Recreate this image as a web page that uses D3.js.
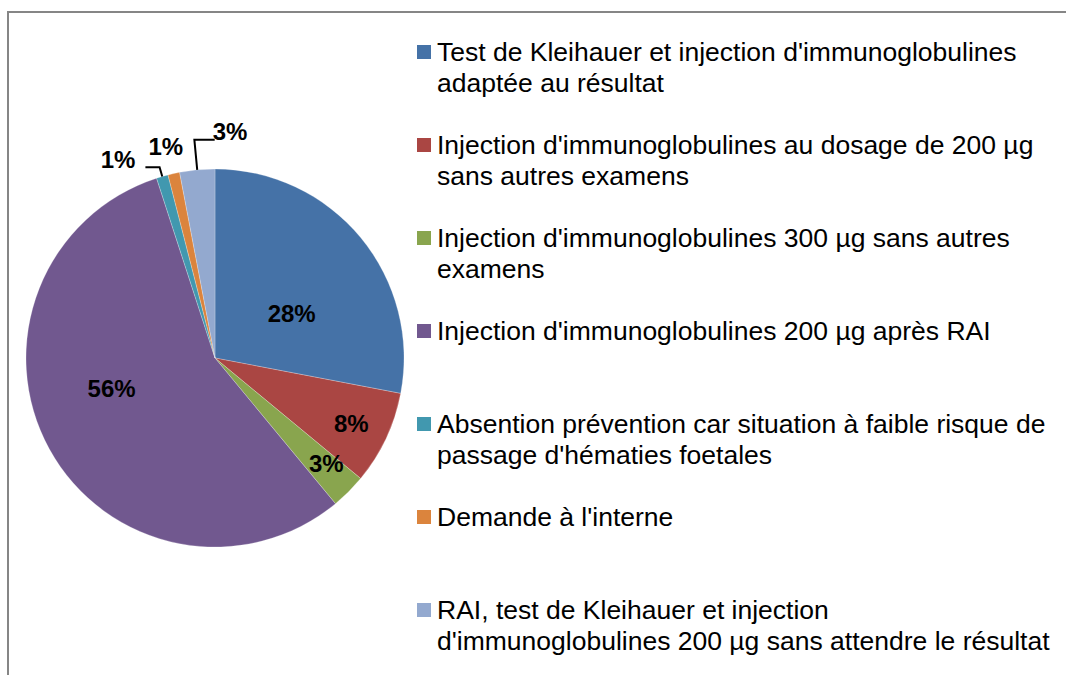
<!DOCTYPE html>
<html>
<head>
<meta charset="utf-8">
<script src="https://cdn.jsdelivr.net/npm/d3@7"></script>
<style>
  html, body { margin: 0; padding: 0; background: #fff; }
  svg { display: block; font-family: "Liberation Sans", Arial, sans-serif; }
</style>
</head>
<body>
<div id="chart"></div>
<script>
// categories (legend lines), values in percent, slice colours
const categories = [
  ["Test de Kleihauer et injection d'immunoglobulines", "adaptée au résultat"],
  ["Injection d'immunoglobulines au dosage de 200 µg", "sans autres examens"],
  ["Injection d'immunoglobulines 300 µg sans autres", "examens"],
  ["Injection d'immunoglobulines 200 µg après RAI"],
  ["Absention prévention car situation à faible risque de", "passage d'hématies foetales"],
  ["Demande à l'interne"],
  ["RAI, test de Kleihauer et injection", "d'immunoglobulines 200 µg sans attendre le résultat"]
];
const values = [28, 8, 3, 56, 1, 1, 3];
const colors = ["#4572A7", "#AA4643", "#89A54E", "#71588F", "#4198AF", "#DB843D", "#93A9CF"];

// label placement (fraction of radius, angle nudge in degrees, leader line?)
const labelRadius = [0.47, 0.80, 0.81, 0.57, 1.17, 1.15, 1.20];
const labelShift = [9.3, 0.5, -1.6, 12.6, -9.8, -0.5, 9.2];
const labelLeader = [false, false, false, false, true, false, true];

const W = 1066, H = 675;
const cx = 215, cy = 358, R = 189;

const svg = d3.select("#chart").append("svg")
  .attr("width", W)
  .attr("height", H);

// chart frame (runs off the right and bottom edges)
svg.append("rect")
  .attr("x", 8)
  .attr("y", 12)
  .attr("width", W + 20)
  .attr("height", H + 20)
  .attr("fill", "#fff")
  .attr("stroke", "#868686")
  .attr("stroke-width", 2);

const pie = d3.pie().sort(null).value(d => d);
const arcs = pie(values);
const arc = d3.arc().innerRadius(0).outerRadius(R);

const g = svg.append("g").attr("transform", `translate(${cx},${cy})`);

g.selectAll("path.slice")
  .data(arcs)
  .join("path")
  .attr("class", "slice")
  .attr("d", arc)
  .attr("fill", (d, i) => colors[i])
  .attr("stroke", "#fff")
  .attr("stroke-width", 0.4)
  .attr("stroke-opacity", 0.6);

// polar helper: angle clockwise from 12 o'clock
const polar = (a, r) => [r * Math.sin(a), -r * Math.cos(a)];

arcs.forEach((d, i) => {
  const mid = (d.startAngle + d.endAngle) / 2;
  const a = mid + labelShift[i] * Math.PI / 180;
  const [lx, ly] = polar(a, R * labelRadius[i]);

  const txt = g.append("text")
    .attr("x", lx)
    .attr("y", ly)
    .attr("text-anchor", "middle")
    .attr("dominant-baseline", "central")
    .attr("font-size", 24)
    .attr("font-weight", "bold")
    .attr("fill", "#000")
    .text(d3.format(".0f")(values[i]) + "%");

  if (labelLeader[i]) {
    const tw = txt.node().getComputedTextLength();
    const [ex, ey] = polar(mid, R);
    const yLine = ly + 8;
    // follow the radial direction up to the label's line height
    const t = (yLine - ey) / (-Math.cos(mid));
    const bx = ex + t * Math.sin(mid);
    const endX = lx < bx ? lx + tw / 2 + 10 : lx - tw / 2 + 2;
    g.append("path")
      .attr("d", d3.line()([[ex, ey], [bx, yLine], [endX, yLine]]))
      .attr("fill", "none")
      .attr("stroke", "#000")
      .attr("stroke-width", 2);
  }
});

// legend
const legend = svg.append("g").attr("transform", "translate(417,0)");
const item = legend.selectAll("g.item")
  .data(categories)
  .join("g")
  .attr("class", "item")
  .attr("transform", (d, i) => `translate(0,${52 + i * 93})`);

item.append("rect")
  .attr("x", 0)
  .attr("y", -7)
  .attr("width", 14)
  .attr("height", 14)
  .attr("fill", (d, i) => colors[i]);

item.each(function(lines) {
  const t = d3.select(this).append("text")
    .attr("font-size", 26.5)
    .attr("fill", "#000");
  lines.forEach((line, j) => {
    t.append("tspan")
      .attr("x", 20)
      .attr("y", 9 + j * 31)
      .text(line);
  });
});
</script>
</body>
</html>
